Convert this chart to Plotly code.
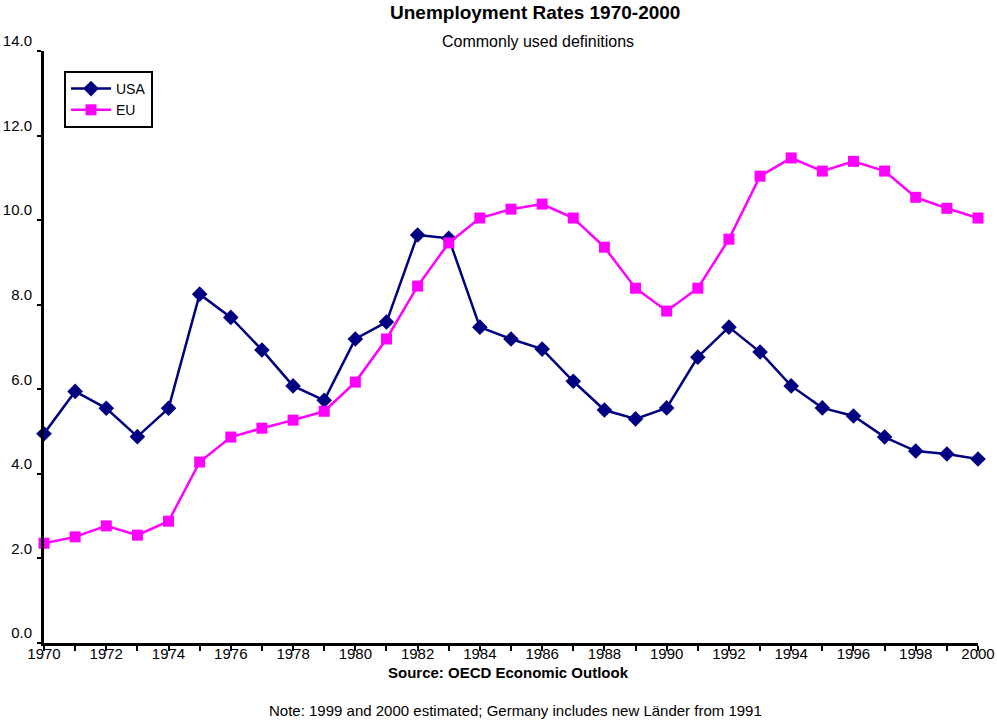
import plotly.graph_objects as go

years = list(range(1970, 2001))
usa = [4.95, 5.95, 5.55, 4.88, 5.55, 8.25, 7.7, 6.93, 6.08, 5.74, 7.19, 7.59, 9.65, 9.57,
       7.47, 7.19, 6.95, 6.19, 5.51, 5.30, 5.56, 6.76, 7.47, 6.88, 6.08, 5.56, 5.37, 4.87,
       4.54, 4.47, 4.35]
eu = [2.36, 2.51, 2.77, 2.55, 2.88, 4.28, 4.87, 5.08, 5.27, 5.48, 6.17, 7.19, 8.44, 9.46,
      10.05, 10.26, 10.38, 10.05, 9.36, 8.39, 7.85, 8.39, 9.55, 11.04, 11.47, 11.16, 11.39,
      11.16, 10.54, 10.28, 10.05]
ytick_vals = [0, 2, 4, 6, 8, 10, 12, 14]
xtick_labels = [str(y) if y % 2 == 0 else "" for y in years]

FONT = "Liberation Sans, Arial, sans-serif"

fig = go.Figure()
fig.add_trace(go.Scatter(x=years, y=usa, name="USA", mode="lines+markers",
                         line=dict(color="#000080", width=2.5),
                         marker=dict(symbol="diamond", size=12, color="#000080"),
                         cliponaxis=False))
fig.add_trace(go.Scatter(x=years, y=eu, name="EU", mode="lines+markers",
                         line=dict(color="#FF00FF", width=2.5),
                         marker=dict(symbol="square", size=11, color="#FF00FF"),
                         cliponaxis=False))

fig.update_layout(
    width=997, height=720,
    margin=dict(l=44, r=19, t=51, b=77, autoexpand=False),
    paper_bgcolor="white", plot_bgcolor="white",
    font=dict(family=FONT, size=15, color="black"),
    showlegend=True,
    legend=dict(x=(64 - 44) / 934, y=(643 - 71) / 592, xanchor="left", yanchor="top",
                bordercolor="black", borderwidth=2, bgcolor="white",
                font=dict(size=14), tracegroupgap=0, itemwidth=40),
    xaxis=dict(range=[1970, 2000], tickvals=years, ticktext=xtick_labels,
               ticks="outside", ticklen=5, tickwidth=2, tickcolor="black",
               showline=True, linecolor="black", linewidth=3, automargin=False,
               showgrid=False, zeroline=False, ticklabelstandoff=-10,
               tickfont=dict(size=15)),
    yaxis=dict(range=[0, 14], tickvals=ytick_vals, tickformat=".1f",
               ticks="outside", ticklen=4, tickwidth=2, tickcolor="black",
               showline=True, linecolor="black", linewidth=3, automargin=False,
               showgrid=False, zeroline=False, ticklabelshift=-10,
               ticklabelstandoff=2, tickfont=dict(size=15)),
)

fig.add_annotation(text="<b>Unemployment Rates 1970-2000</b>", xref="paper", yref="paper",
                   x=(535 - 44) / 934, y=(643 - 13) / 592, showarrow=False,
                   font=dict(size=19), xanchor="center", yanchor="middle")
fig.add_annotation(text="Commonly used definitions", xref="paper", yref="paper",
                   x=(538 - 44) / 934, y=(643 - 41) / 592, showarrow=False,
                   font=dict(size=16), xanchor="center", yanchor="middle")
fig.add_annotation(text="<b>Source: OECD Economic Outlook</b>", xref="paper", yref="paper",
                   x=(508 - 44) / 934, y=(643 - 672) / 592, showarrow=False,
                   font=dict(size=15), xanchor="center", yanchor="middle")
fig.add_annotation(text="Note: 1999 and 2000 estimated; Germany includes new Länder from 1991",
                   xref="paper", yref="paper",
                   x=(515 - 44) / 934, y=(643 - 710) / 592, showarrow=False,
                   font=dict(size=15), xanchor="center", yanchor="middle")

fig.write_html("out.html", config={"displayModeBar": False},
               post_script="document.body.style.margin='0';document.body.style.overflow='hidden';")
